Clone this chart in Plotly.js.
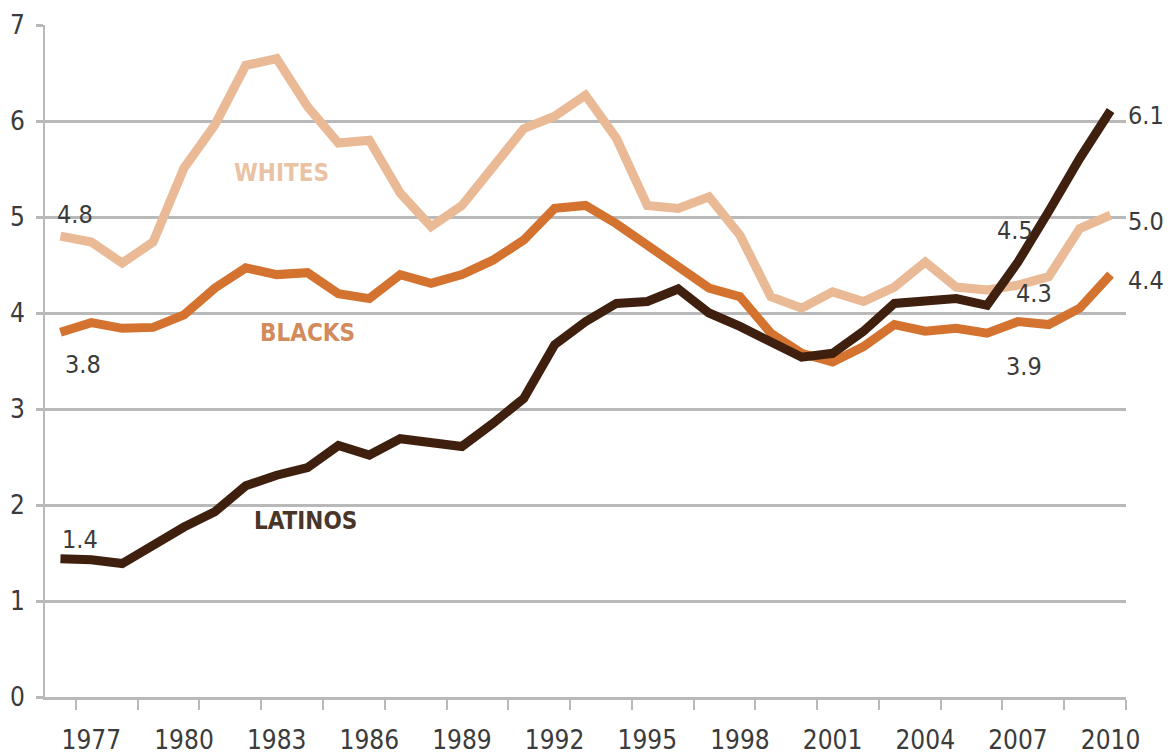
<!DOCTYPE html>
<html>
<head>
<meta charset="utf-8">
<script src="https://cdn.plot.ly/plotly-3.0.1.min.js"></script>
<style>
  html, body { margin: 0; padding: 0; background: #ffffff; }
  #chart { width: 1171px; height: 754px; }
</style>
</head>
<body>
<div id="chart"></div>
<script>
// Annual values by group, 1976-2010
const years = [1976, 1977, 1978, 1979, 1980, 1981, 1982, 1983, 1984, 1985,
               1986, 1987, 1988, 1989, 1990, 1991, 1992, 1993, 1994, 1995,
               1996, 1997, 1998, 1999, 2000, 2001, 2002, 2003, 2004, 2005,
               2006, 2007, 2008, 2009, 2010];

const whites = [4.80, 4.74, 4.52, 4.74, 5.51, 5.96, 6.58, 6.65, 6.15, 5.77,
                5.80, 5.25, 4.90, 5.12, 5.52, 5.92, 6.05, 6.27, 5.82, 5.12,
                5.09, 5.21, 4.81, 4.17, 4.05, 4.22, 4.12, 4.27, 4.53, 4.27,
                4.24, 4.29, 4.38, 4.88, 5.02];

const blacks = [3.80, 3.90, 3.84, 3.85, 3.98, 4.26, 4.47, 4.40, 4.42, 4.20,
                4.15, 4.40, 4.31, 4.40, 4.55, 4.76, 5.09, 5.12, 4.93, 4.71,
                4.50, 4.26, 4.17, 3.79, 3.58, 3.49, 3.65, 3.88, 3.81, 3.84,
                3.79, 3.91, 3.88, 4.05, 4.40];

const latinos = [1.44, 1.43, 1.39, 1.58, 1.77, 1.93, 2.20, 2.31, 2.39, 2.62,
                 2.52, 2.69, 2.64, 2.61, 2.85, 3.11, 3.67, 3.91, 4.10, 4.12,
                 4.25, 4.00, 3.86, 3.70, 3.54, 3.58, 3.81, 4.10, 4.12, 4.15,
                 4.08, 4.53, 5.06, 5.61, 6.11];

const tickYears = [1977, 1980, 1983, 1986, 1989, 1992, 1995, 1998, 2001, 2004, 2007, 2010];
const yTicks = [0, 1, 2, 3, 4, 5, 6, 7];

const FONT = "'Liberation Sans Narrow', 'DejaVu Sans Condensed', 'Liberation Sans', sans-serif";
const GRID = '#b9b9b9';
const TEXT = '#3b3b3b';

const colors = { whites: '#eab995', blacks: '#d4732f', latinos: '#3f1f0e' };

function line(name, values, color) {
  return {
    type: 'scatter', mode: 'lines', name: name,
    x: years, y: values,
    line: { color: color, width: 9, shape: 'linear' },
    hoverinfo: 'x+y+name'
  };
}

const traces = [
  line('Whites', whites, colors.whites),
  line('Blacks', blacks, colors.blacks),
  line('Latinos', latinos, colors.latinos)
];

// value callouts: [series, index, xshift, yshift]
const last = years.length - 1;
const i2007 = years.indexOf(2007);
const callouts = [
  [whites, 0, 15, 22],
  [blacks, 0, 23, -32],
  [latinos, 0, 20, 19],
  [latinos, i2007, -3, 32],
  [whites, i2007, 16, -8],
  [blacks, i2007, 6, -45],
  [latinos, last, 35, -5],
  [whites, last, 35, -6],
  [blacks, last, 35, -6]
];

const annotations = callouts.map(([s, i, dx, dy]) => ({
  x: years[i], y: s[i], xref: 'x', yref: 'y',
  text: s[i].toFixed(1), showarrow: false,
  xshift: dx, yshift: dy,
  font: { family: FONT, size: 25, color: TEXT }
}));

// group names written beside their lines
const groupLabels = [
  { text: 'WHITES', x: 1983.17, y: 5.46, color: '#eac2a4' },
  { text: 'BLACKS', x: 1984.01, y: 3.79, color: '#d18b5d' },
  { text: 'LATINOS', x: 1983.92, y: 1.83, color: '#4a3629' }
];
groupLabels.forEach(g => annotations.push({
  x: g.x, y: g.y, xref: 'x', yref: 'y', text: '<b>' + g.text + '</b>',
  showarrow: false,
  font: { family: FONT, size: 24, color: g.color }
}));

const layout = {
  width: 1171, height: 754,
  margin: { l: 45, r: 45, t: 25, b: 57, pad: 0 },
  paper_bgcolor: '#ffffff', plot_bgcolor: '#ffffff',
  showlegend: false,
  font: { family: FONT, color: TEXT },
  xaxis: {
    range: [1975.5, 2010.5],
    tickmode: 'array', tickvals: tickYears, ticktext: tickYears.map(String),
    ticks: '', showgrid: false, zeroline: false,
    showline: true, linecolor: GRID, linewidth: 3,
    tickfont: { family: FONT, size: 26, color: TEXT },
    ticklabelstandoff: 18,
    minor: { tick0: 1976.5, dtick: 2, ticks: 'outside', ticklen: 10, tickwidth: 2, tickcolor: GRID, showgrid: false }
  },
  yaxis: {
    range: [0, 7],
    tickmode: 'array', tickvals: yTicks,
    showgrid: true, gridcolor: GRID, gridwidth: 3,
    zeroline: false,
    showline: true, linecolor: GRID, linewidth: 2,
    ticks: 'outside', ticklen: 7, tickwidth: 3, tickcolor: GRID,
    tickfont: { family: FONT, size: 26, color: TEXT },
    ticklabelstandoff: 6
  },
  annotations: annotations
};

Plotly.newPlot('chart', traces, layout, { displayModeBar: false, staticPlot: true });
</script>
</body>
</html>
